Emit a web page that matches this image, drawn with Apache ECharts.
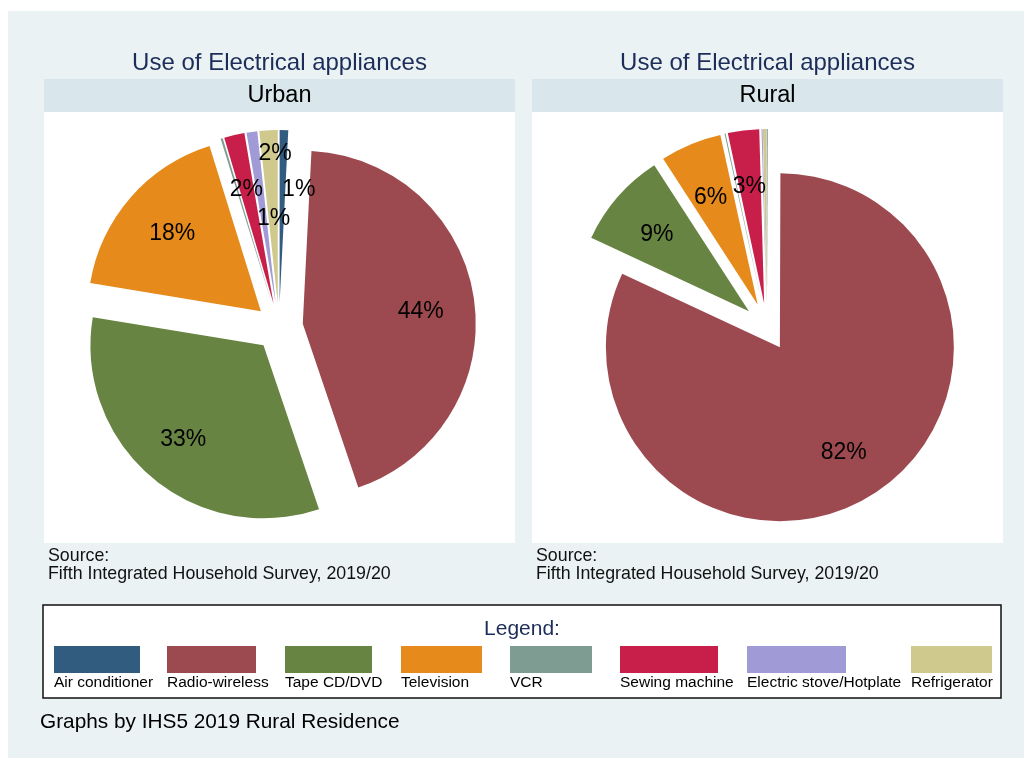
<!DOCTYPE html>
<html>
<head>
<meta charset="utf-8">
<script src="https://cdn.jsdelivr.net/npm/echarts@6/dist/echarts.min.js"></script>
<style>
  html, body { margin: 0; padding: 0; background: #ffffff; }
  #chart { width: 1024px; height: 758px; }
</style>
</head>
<body>
<div id="chart"></div>
<script>
// Household use of electrical appliances (percent of households), IHS5 2019/20
const categories = ['Air conditioner', 'Radio-wireless', 'Tape CD/DVD', 'Television',
                    'VCR', 'Sewing machine', 'Electric stove/Hotplate', 'Refrigerator'];
const urbanShare = [0.8, 44.0, 32.8, 17.6, 0.2, 1.9, 1.0, 1.7];
const ruralShare = [0.05, 81.9, 8.9, 5.7, 0.1, 2.9, 0.1, 0.35];
const panelNames = ['Urban', 'Rural'];
const chartTitle = 'Use of Electrical appliances';
const sourceLines = ['Source:', 'Fifth Integrated Household Survey, 2019/20'];
const footNote = 'Graphs by IHS5 2019 Rural Residence';

// slice palette, one colour per appliance
const sliceColors = ['#325b80', '#9c4a50', '#678442', '#e68b1b',
                     '#7f9c92', '#c81f4a', '#a09bd6', '#cfc98e'];

const FONT = '"Liberation Sans", Arial, Helvetica, sans-serif';
const NAVY = '#1c2d5a';

// layout of the two panels; every slice is pulled out by the same offset;
// nudge = small label shifts [dx, dy] by slice index
const panels = [
  { values: urbanShare, left: 44, width: 471, center: [279, 327], radius: 173, offset: 24,
    nudge: { 0: [16, 11], 1: [-5, 5], 3: [5, 4], 5: [1, 7], 6: [15, 38], 7: [4, -25] } },
  { values: ruralShare, left: 532, width: 471, center: [767, 327], radius: 174, offset: 24,
    nudge: { 1: [-3, 0], 2: [2, 5], 3: [1, 8], 5: [0, 7] } }
];

// legend columns [x, swatch width]
const legendCols = [[54, 86], [167, 89], [285, 87], [401, 81], [510, 82], [620, 98], [747, 99], [911, 81]];

const graphics = [];
graphics.push({ type: 'rect', shape: { x: 8, y: 11, width: 1016, height: 747 },
                style: { fill: '#eaf2f3' }, silent: true });

panels.forEach((p, k) => {
  const cx = p.left + p.width / 2;
  graphics.push({ type: 'text', style: { x: cx, y: 63, text: chartTitle, fill: NAVY,
    font: '24px ' + FONT, align: 'center', verticalAlign: 'middle' }, silent: true });
  graphics.push({ type: 'rect', shape: { x: p.left, y: 79, width: p.width, height: 33 },
    style: { fill: '#d9e6eb' }, silent: true });
  graphics.push({ type: 'text', style: { x: cx, y: 96, text: panelNames[k], fill: '#000',
    font: '23.5px ' + FONT, align: 'center', verticalAlign: 'middle' }, silent: true });
  graphics.push({ type: 'rect', shape: { x: p.left, y: 112, width: p.width, height: 431 },
    style: { fill: '#ffffff' }, silent: true });
  sourceLines.forEach((t, j) => {
    graphics.push({ type: 'text', style: { x: p.left + 4, y: 556 + j * 18.5, text: t, fill: '#111',
      font: '17.8px ' + FONT, align: 'left', verticalAlign: 'middle' }, silent: true });
  });
});

// legend box
graphics.push({ type: 'rect', shape: { x: 43, y: 605, width: 958, height: 93 },
  style: { fill: '#ffffff', stroke: '#111', lineWidth: 1.5 }, silent: true });
graphics.push({ type: 'text', style: { x: 522, y: 629.5, text: 'Legend:', fill: NAVY,
  font: '21px ' + FONT, align: 'center', verticalAlign: 'middle' }, silent: true });
categories.forEach((c, i) => {
  const [x, w] = legendCols[i];
  graphics.push({ type: 'rect', shape: { x: x, y: 646, width: w, height: 27 },
    style: { fill: sliceColors[i] }, silent: true });
  graphics.push({ type: 'text', style: { x: x, y: 682.5, text: c, fill: '#000',
    font: '15.5px ' + FONT, align: 'left', verticalAlign: 'middle' }, silent: true });
});

graphics.push({ type: 'text', style: { x: 40, y: 722, text: footNote, fill: '#000',
  font: '20.8px ' + FONT, align: 'left', verticalAlign: 'middle' }, silent: true });

const series = [];
panels.forEach((p) => {
  const common = {
    type: 'pie',
    center: p.center,
    startAngle: 90,
    clockwise: true,
    selectedMode: 'multiple',
    selectedOffset: p.offset,
    avoidLabelOverlap: false,
    animation: false,
    labelLine: { show: false },
    emphasis: { disabled: true },
    z: 5
  };
  // coloured slices
  series.push(Object.assign({}, common, {
    radius: p.radius,
    label: { show: false },
    itemStyle: { borderWidth: 0 },
    select: { itemStyle: { borderWidth: 0 } },
    data: categories.map((c, i) => ({
      name: c, value: p.values[i], selected: true,
      itemStyle: { color: sliceColors[i] }
    }))
  }));
  // transparent ring carrying the percent labels at 0.7 r
  series.push(Object.assign({}, common, {
    silent: true,
    z: 6,
    radius: [p.radius * 0.4, p.radius],
    itemStyle: { color: 'rgba(0,0,0,0)', borderWidth: 0 },
    select: { itemStyle: { color: 'rgba(0,0,0,0)', borderWidth: 0 } },
    label: {
      show: true, position: 'inside', color: '#000', fontSize: 23, fontFamily: FONT,
      formatter: (d) => Math.round(d.value) + '%'
    },
    labelLayout: (params) => {
      const n = p.nudge[params.dataIndex];
      return n ? { dx: n[0], dy: n[1] } : {};
    },
    data: categories.map((c, i) => ({
      name: c, value: p.values[i], selected: true,
      label: { show: p.values[i] >= 0.5 }
    }))
  }));
});

const chart = echarts.init(document.getElementById('chart'), null, { renderer: 'canvas' });
chart.setOption({
  animation: false,
  backgroundColor: '#ffffff',
  graphic: { elements: graphics },
  series: series
});
</script>
</body>
</html>
